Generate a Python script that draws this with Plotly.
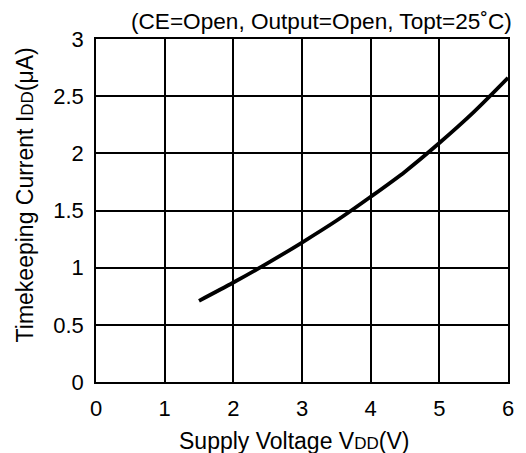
import plotly.graph_objects as go

# Supply voltage (V) and timekeeping current (uA)
vdd = [1.5, 2.0, 2.5, 3.0, 3.5, 4.0, 4.5, 5.0, 5.5, 6.0]
idd = [0.71, 0.87, 1.04, 1.22, 1.41, 1.62, 1.84, 2.09, 2.36, 2.66]

x_ticks = [0, 1, 2, 3, 4, 5, 6]
y_ticks = [0, 0.5, 1, 1.5, 2, 2.5, 3]
y_tick_text = ["0", "0.5", "1", "1.5", "2", "2.5", "3"]

FONT = "Liberation Sans, Arial, sans-serif"

fig = go.Figure()
fig.add_trace(go.Scatter(
    x=vdd, y=idd, mode="lines",
    line=dict(color="black", width=3.8, shape="spline", smoothing=0.8),
    showlegend=False, hoverinfo="skip",
))

axis_common = dict(
    showgrid=True, gridcolor="black", gridwidth=1.5,
    showline=True, linecolor="black", linewidth=1.5, mirror=True,
    zeroline=False, ticks="", color="black", ticklabelstandoff=6,
    tickfont=dict(family=FONT, size=22, color="black"),
)

fig.update_xaxes(range=[0, 6], tickvals=x_ticks,
                 ticktext=[str(v) for v in x_ticks], **axis_common)
fig.update_yaxes(range=[0, 3], tickvals=y_ticks,
                 ticktext=y_tick_text, **axis_common)

# axis titles
fig.add_annotation(
    text="Supply Voltage V<span style='font-size:17px'>DD</span>(V)",
    xref="paper", yref="paper", x=0.481, y=-0.172,
    xanchor="center", yanchor="middle", showarrow=False,
    font=dict(family=FONT, size=23, color="black"),
)
fig.add_annotation(
    text="Timekeeping Current I<span style='font-size:17px'>DD</span>(\u03bcA)",
    xref="paper", yref="paper", x=-0.1715, y=0.545, textangle=-90,
    xanchor="center", yanchor="middle", showarrow=False,
    font=dict(family=FONT, size=23, color="black"),
)

# measurement conditions
fig.add_annotation(
    text="(CE=Open, Output=Open, Topt=25\u02daC)",
    xref="paper", yref="paper", x=1.015, y=1.0, yshift=3,
    xanchor="right", yanchor="bottom", showarrow=False,
    font=dict(family=FONT, size=22.6, color="black"),
)

fig.update_layout(
    width=526, height=453,
    margin=dict(l=96, r=16, t=39, b=71),
    paper_bgcolor="white", plot_bgcolor="white",
)

fig.write_html("out.html")
